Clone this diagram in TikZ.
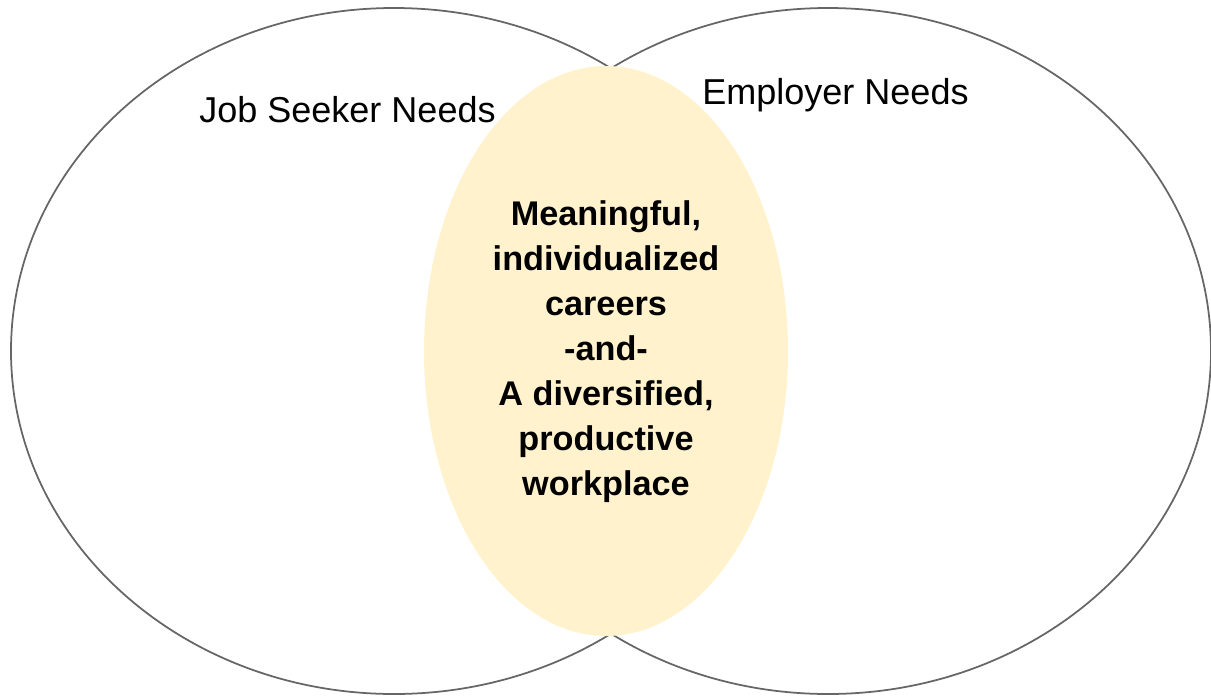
\documentclass[tikz,border=0pt]{standalone}
\usepackage{fontspec}
\setmainfont{Liberation Sans}

\definecolor{paleyellow}{HTML}{FFF2CC}
\definecolor{rimgray}{HTML}{666666}

\begin{document}
\begin{tikzpicture}[x=0.02cm, y=-0.02cm]
\useasboundingbox (0, 0) rectangle (1211, 697);
\draw [rimgray, line width=1pt] (394, 351) ellipse [x radius=383, y radius=343];
\draw [rimgray, line width=1pt] (828, 351) ellipse [x radius=383, y radius=343];
\path [fill=paleyellow] (606, 351) ellipse [x radius=182, y radius=285];

\node [font=\fontsize{20.5}{24}\selectfont, anchor=base] (seeker) at (347.5, 122) {Job Seeker Needs};
\node [font=\fontsize{20.5}{24}\selectfont, anchor=base] (employer) at (835.5, 104) {Employer Needs};
\node [font=\fontsize{19.5}{25.6}\selectfont\bfseries, align=center] (overlap) at (606, 352)
  {Meaningful,\\individualized\\careers\\-and-\\A diversified,\\productive\\workplace};
\end{tikzpicture}
\end{document}
